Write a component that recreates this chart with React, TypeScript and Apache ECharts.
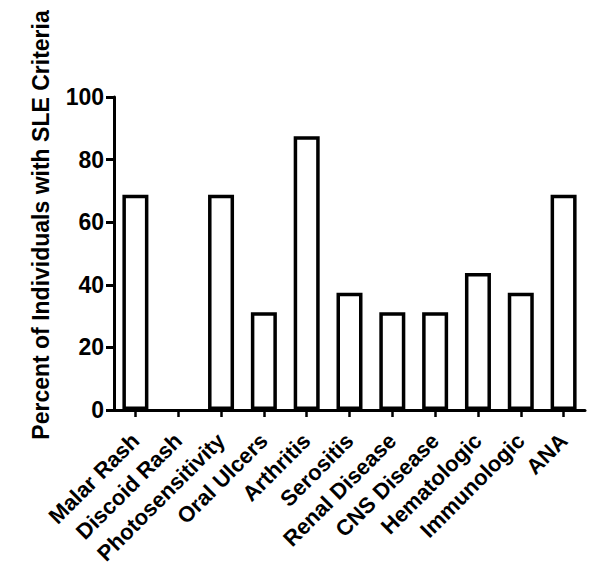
import React, { useEffect, useRef } from "react";
import * as echarts from "echarts";

const categories = [
  "Malar Rash",
  "Discoid Rash",
  "Photosensitivity",
  "Oral Ulcers",
  "Arthritis",
  "Serositis",
  "Renal Disease",
  "CNS Disease",
  "Hematologic",
  "Immunologic",
  "ANA",
];
const percentValues = [68.75, 0, 68.75, 31.25, 87.5, 37.5, 31.25, 31.25, 43.75, 37.5, 68.75];
const yAxisTitle = "Percent of Individuals with SLE Criteria";

const FONT = "'Liberation Sans', Arial, Helvetica, sans-serif";

export default function App() {
  const ref = useRef<HTMLDivElement>(null);
  useEffect(() => {
    document.body.style.margin = "0";
    if (!ref.current) return;
    const chart = echarts.init(ref.current, null, { renderer: "svg" });
    chart.setOption({
      animation: false,
      backgroundColor: "#ffffff",
      grid: { left: 114, right: 15, top: 97, bottom: 171, containLabel: false },
      graphic: [
        {
          type: "text",
          x: 41,
          y: 225,
          rotation: Math.PI / 2,
          style: {
            text: yAxisTitle,
            font: `bold 23px ${FONT}`,
            fill: "#000",
            textAlign: "center",
            textVerticalAlign: "middle",
          },
        },
      ],
      xAxis: {
        type: "category",
        data: categories,
        axisLine: { show: true, lineStyle: { color: "#000", width: 3 } },
        axisTick: { show: true, alignWithLabel: true, length: 7, lineStyle: { color: "#000", width: 2.5 } },
        axisLabel: {
          rotate: 45,
          interval: 0,
          margin: 27,
          color: "#000",
          fontFamily: FONT,
          fontWeight: "bold",
          fontSize: 22,
        },
      },
      yAxis: {
        type: "value",
        min: 0,
        max: 100,
        interval: 20,
        axisLine: { show: true, lineStyle: { color: "#000", width: 3 } },
        axisTick: { show: true, length: 8, lineStyle: { color: "#000", width: 3 } },
        splitLine: { show: false },
        axisLabel: {
          margin: 10,
          color: "#000",
          fontFamily: FONT,
          fontWeight: "bold",
          fontSize: 23,
        },
      },
      series: [
        {
          type: "bar",
          data: percentValues.map((v) => (v === 0 ? { value: v, itemStyle: { borderWidth: 0 } } : v)),
          barWidth: 26,
          itemStyle: { color: "#ffffff", borderColor: "#000", borderWidth: 3.5 },
        },
      ],
    });
    return () => chart.dispose();
  }, []);
  return <div ref={ref} style={{ width: 600, height: 581 }} />;
}
